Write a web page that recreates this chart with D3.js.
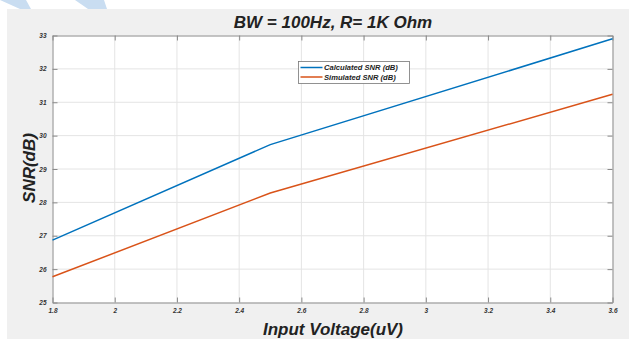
<!DOCTYPE html>
<html>
<head>
<meta charset="utf-8">
<script src="https://cdn.jsdelivr.net/npm/d3@7"></script>
<style>
  body { margin: 0; background: #fff; }
  svg { display: block; font-family: "Liberation Sans", Arial, sans-serif; }
</style>
</head>
<body>
<div id="chart"></div>
<script>
// data
const voltage = [1.8, 2.5, 3.6];
const calculatedSnr = [26.87, 29.73, 32.9];
const simulatedSnr = [25.77, 28.28, 31.24];
const seriesNames = ["Calculated SNR (dB)", "Simulated SNR (dB)"];
const seriesColors = ["#0072BD", "#D95319"];
const xTicks = [1.8, 2, 2.2, 2.4, 2.6, 2.8, 3, 3.2, 3.4, 3.6];
const yTicks = [25, 26, 27, 28, 29, 30, 31, 32, 33];

const W = 629, H = 339;
const margin = {top: 35.5, right: 16.5, bottom: 36.5, left: 52.5};
const width = W - margin.left - margin.right,
  height = H - margin.top - margin.bottom;

const svg = d3.select("#chart").append("svg")
  .attr("width", W)
  .attr("height", H);

// figure background + the faint blue stripes at the top left
svg.append("rect")
  .attr("x", 7).attr("y", 9)
  .attr("width", W - 7).attr("height", H - 9)
  .attr("fill", "#f0f0f0");
svg.append("polygon")
  .attr("points", "0,0 26,0 31,9 20,9 0,0")
  .attr("fill", "#c9ddf1");
svg.append("polygon")
  .attr("points", "75,0 104,0 107,9 88,9")
  .attr("fill", "#c9ddf1");

const g = svg.append("g")
  .attr("transform", "translate(" + margin.left + "," + margin.top + ")");

const x = d3.scaleLinear().domain([1.8, 3.6]).range([0, width]);
const y = d3.scaleLinear().domain([25, 33]).range([height, 0]);

g.append("rect")
  .attr("width", width).attr("height", height)
  .attr("fill", "#fff");

// grid
g.append("g")
  .selectAll("line").data(xTicks.slice(1, -1))
  .enter().append("line")
    .attr("x1", d => x(d)).attr("x2", d => x(d))
    .attr("y1", 0).attr("y2", height)
    .attr("stroke", "#e4e4e4");
g.append("g")
  .selectAll("line").data(yTicks.slice(1, -1))
  .enter().append("line")
    .attr("x1", 0).attr("x2", width)
    .attr("y1", d => y(d)).attr("y2", d => y(d))
    .attr("stroke", "#e4e4e4");

// axes, ticks on all four sides like matlab's box
const tickFont = g => g.selectAll("text")
  .attr("font-size", 6.5)
  .attr("font-weight", "bold")
  .attr("font-style", "italic")
  .attr("fill", "#333");

const styleAxis = sel => {
  sel.select(".domain").attr("stroke", "#8a8a8a");
  sel.selectAll(".tick line").attr("stroke", "#8a8a8a");
};

g.append("g")
  .attr("transform", "translate(0," + height + ")")
  .call(d3.axisBottom(x).tickValues(xTicks).tickSizeInner(-5).tickSizeOuter(0).tickPadding(6).tickFormat(d3.format("")))
  .call(styleAxis)
  .call(tickFont);
g.append("g")
  .call(d3.axisTop(x).tickValues(xTicks).tickSizeInner(-5).tickSizeOuter(0).tickFormat(""))
  .call(styleAxis);
g.append("g")
  .call(d3.axisLeft(y).tickValues(yTicks).tickSizeInner(-5).tickSizeOuter(0).tickPadding(6))
  .call(styleAxis)
  .call(tickFont);
g.append("g")
  .attr("transform", "translate(" + width + ",0)")
  .call(d3.axisRight(y).tickValues(yTicks).tickSizeInner(-5).tickSizeOuter(0).tickFormat(""))
  .call(styleAxis);

// lines
const line = d3.line()
  .x(d => x(d[0]))
  .y(d => y(d[1]));

[calculatedSnr, simulatedSnr].forEach((vals, i) => {
  g.append("path")
    .datum(voltage.map((v, j) => [v, vals[j]]))
    .attr("fill", "none")
    .attr("stroke", seriesColors[i])
    .attr("stroke-width", 1.5)
    .attr("d", line);
});

// legend
const legend = svg.append("g")
  .attr("transform", "translate(298.5,61.5)");
legend.append("rect")
  .attr("width", 111).attr("height", 22)
  .attr("fill", "#fff")
  .attr("stroke", "#777")
  .attr("stroke-width", 0.8);
seriesNames.forEach((name, i) => {
  legend.append("line")
    .attr("x1", 2).attr("x2", 24)
    .attr("y1", 6 + i * 9.5).attr("y2", 6 + i * 9.5)
    .attr("stroke", seriesColors[i])
    .attr("stroke-width", 1.5);
  legend.append("text")
    .attr("x", 25.5).attr("y", 6 + i * 9.5)
    .attr("dy", "0.35em")
    .attr("font-size", 7.6)
    .attr("font-weight", "bold")
    .attr("font-style", "italic")
    .attr("fill", "#222")
    .text(name);
});

// title and axis labels
svg.append("text")
  .attr("x", 333).attr("y", 28)
  .attr("text-anchor", "middle")
  .attr("font-size", 17)
  .attr("font-weight", "bold")
  .attr("font-style", "italic")
  .attr("fill", "#222")
  .text("BW = 100Hz, R= 1K Ohm");

svg.append("text")
  .attr("x", 333).attr("y", 335)
  .attr("text-anchor", "middle")
  .attr("font-size", 17)
  .attr("font-weight", "bold")
  .attr("font-style", "italic")
  .attr("fill", "#222")
  .text("Input Voltage(uV)");

svg.append("text")
  .attr("transform", "translate(35,168) rotate(-90)")
  .attr("text-anchor", "middle")
  .attr("font-size", 17)
  .attr("font-weight", "bold")
  .attr("font-style", "italic")
  .attr("fill", "#222")
  .text("SNR(dB)");
</script>
</body>
</html>
